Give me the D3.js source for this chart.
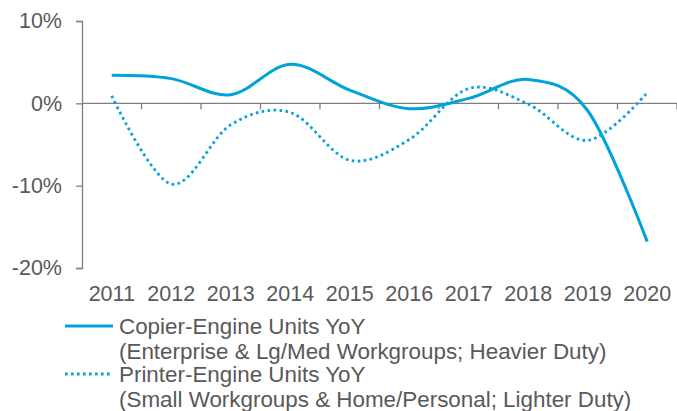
<!DOCTYPE html>
<html>
<head>
<meta charset="utf-8">
<script src="https://cdn.jsdelivr.net/npm/d3@7"></script>
<style>
  body { margin: 0; background: #fff; }
  svg text { font-family: "Liberation Sans", Arial, sans-serif; }
</style>
</head>
<body>
<div id="canvas"></div>
<script>
// years along the bottom
const years = ["2011", "2012", "2013", "2014", "2015", "2016", "2017", "2018", "2019", "2020"];
// YoY growth, percent
const copierYoY = [3.4, 3.0, 1.05, 4.75, 1.6, -0.65, 0.6, 2.9, -0.9, -16.8];
const printerYoY = [0.9, -9.8, -2.6, -1.1, -6.9, -4.4, 1.8, -0.1, -4.5, 1.3];
const yTicks = [10, 0, -10, -20];
const legendLines = [
  ["Copier-Engine Units YoY", "(Enterprise & Lg/Med Workgroups; Heavier Duty)"],
  ["Printer-Engine Units YoY", "(Small Workgroups & Home/Personal; Lighter Duty)"]
];

const width = 677;
const height = 411;
const margin = { top: 21, left: 82, bottom: 143, right: 0 };
const iwidth = width - margin.left - margin.right;
const iheight = height - margin.top - margin.bottom;
const blue = "#00a2dc";
const axisGrey = "#7f7f7f";
const textGrey = "#595959";

const svg = d3.select("#canvas").append("svg")
  .attr("width", width)
  .attr("height", height);

const g = svg.append("g").attr("transform", `translate(${margin.left},${margin.top})`);

const x = d3.scaleBand().domain(years).range([0, iwidth]);
const y = d3.scaleLinear().domain([-20, 10]).range([iheight, 0]);

// y axis
const yAxis = g.append("g")
  .call(d3.axisLeft(y).tickValues(yTicks).tickSize(6).tickPadding(14).tickFormat(d => d + "%"))
  .attr("font-family", null)
  .attr("font-size", null);
yAxis.select(".domain").attr("stroke", axisGrey).attr("stroke-width", 1.3);
yAxis.selectAll(".tick line").attr("stroke", axisGrey).attr("stroke-width", 1.3);
yAxis.selectAll("text").attr("fill", textGrey).style("font-size", "21.5px");

// horizontal zero axis with category ticks
const zero = g.append("g").attr("transform", `translate(0,${y(0)})`);
zero.append("line")
  .attr("x1", 0).attr("x2", iwidth)
  .attr("stroke", axisGrey).attr("stroke-width", 1.3);
zero.selectAll(".cat-tick")
  .data(years)
  .enter().append("line")
  .attr("class", "cat-tick")
  .attr("x1", d => x(d) + x.bandwidth())
  .attr("x2", d => x(d) + x.bandwidth())
  .attr("y1", 0).attr("y2", 6)
  .attr("stroke", axisGrey).attr("stroke-width", 1.3);

// year labels below the plot
g.append("g")
  .selectAll("text")
  .data(years)
  .enter().append("text")
  .attr("x", d => x(d) + x.bandwidth() / 2)
  .attr("y", 301 - margin.top)
  .attr("text-anchor", "middle")
  .attr("fill", textGrey)
  .style("font-size", "21.5px")
  .text(d => d);

const line = d3.line()
  .x((d, i) => x(years[i]) + x.bandwidth() / 2)
  .y(d => y(d))
  .curve(d3.curveCardinal.tension(0));

g.append("path")
  .datum(printerYoY)
  .attr("fill", "none")
  .attr("stroke", blue)
  .attr("stroke-width", 2.8)
  .attr("stroke-dasharray", "2.6 3.4")
  .attr("d", line);

g.append("path")
  .datum(copierYoY)
  .attr("fill", "none")
  .attr("stroke", blue)
  .attr("stroke-width", 3)
  .attr("d", line);

// legend
const legend = svg.append("g").attr("transform", "translate(65,326)");
legendLines.forEach((lines, i) => {
  const row = legend.append("g").attr("transform", `translate(0,${i * 48})`);
  row.append("line")
    .attr("x1", 0).attr("x2", 48)
    .attr("stroke", blue)
    .attr("stroke-width", i === 0 ? 3 : 2.8)
    .attr("stroke-dasharray", i === 0 ? null : "2.6 3.4");
  lines.forEach((t, j) => {
    row.append("text")
      .attr("x", 54)
      .attr("y", j * 25)
      .attr("dy", "0.36em")
      .attr("fill", textGrey)
      .style("font-size", "22.4px")
      .text(t);
  });
});
</script>
</body>
</html>
